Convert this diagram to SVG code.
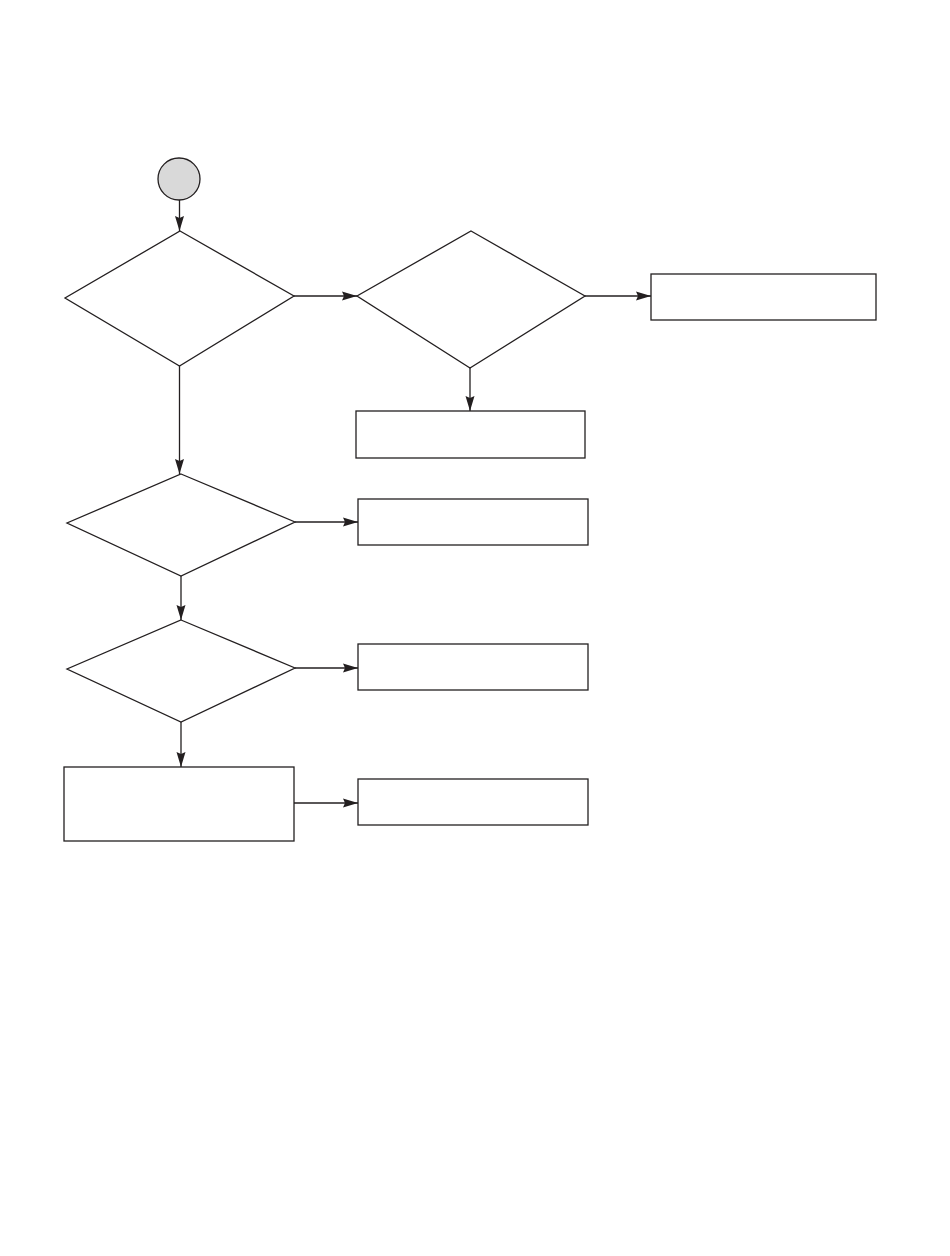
<svg xmlns="http://www.w3.org/2000/svg" width="950" height="1256" viewBox="0 0 950 1256">
<style>
.n{fill:#fff;stroke:#231f20;stroke-width:1.3}
.s{fill:#d9d9d9;stroke:#231f20;stroke-width:1.3}
.c{fill:none;stroke:#231f20;stroke-width:1.3;marker-end:url(#ah)}
</style>
<defs>
<marker id="ah" viewBox="0 0 15 10" refX="15" refY="5" markerWidth="15" markerHeight="10" markerUnits="userSpaceOnUse" orient="auto">
<path d="M0,0.5 L15,5 L0,9.5 L2,5 Z" fill="#231f20"/>
</marker>
</defs>
<rect width="950" height="1256" fill="#fff"/>
<g id="start"><circle class="s" cx="179" cy="179" r="21"/></g>
<g id="d1"><polygon class="n" points="180,231 294,296 179.5,366 65,298"/></g>
<g id="d2"><polygon class="n" points="471,231 585,296 470,368 357,296"/></g>
<g id="rA"><rect class="n" x="651" y="274" width="225" height="46"/></g>
<g id="rB"><rect class="n" x="356" y="411" width="229" height="47"/></g>
<g id="d3"><polygon class="n" points="181,474 295,522 181,576 67,523"/></g>
<g id="rC"><rect class="n" x="358" y="499" width="230" height="46"/></g>
<g id="d4"><polygon class="n" points="181,620 295,668 181,722 67,669"/></g>
<g id="rD"><rect class="n" x="358" y="644" width="230" height="46"/></g>
<g id="rE"><rect class="n" x="64" y="767" width="230" height="74"/></g>
<g id="rF"><rect class="n" x="358" y="779" width="230" height="46"/></g>
<g id="connectors">
<line class="c" x1="179.5" y1="200" x2="179.5" y2="231"/>
<line class="c" x1="294" y1="296" x2="357" y2="296"/>
<line class="c" x1="585" y1="296" x2="651" y2="296"/>
<line class="c" x1="470" y1="368" x2="470" y2="411"/>
<line class="c" x1="179.5" y1="366" x2="179.5" y2="474"/>
<line class="c" x1="295" y1="522" x2="358" y2="522"/>
<line class="c" x1="181" y1="576" x2="181" y2="620"/>
<line class="c" x1="295" y1="668" x2="358" y2="668"/>
<line class="c" x1="181" y1="722" x2="181" y2="767"/>
<line class="c" x1="294" y1="803" x2="358" y2="803"/>
</g>
</svg>
